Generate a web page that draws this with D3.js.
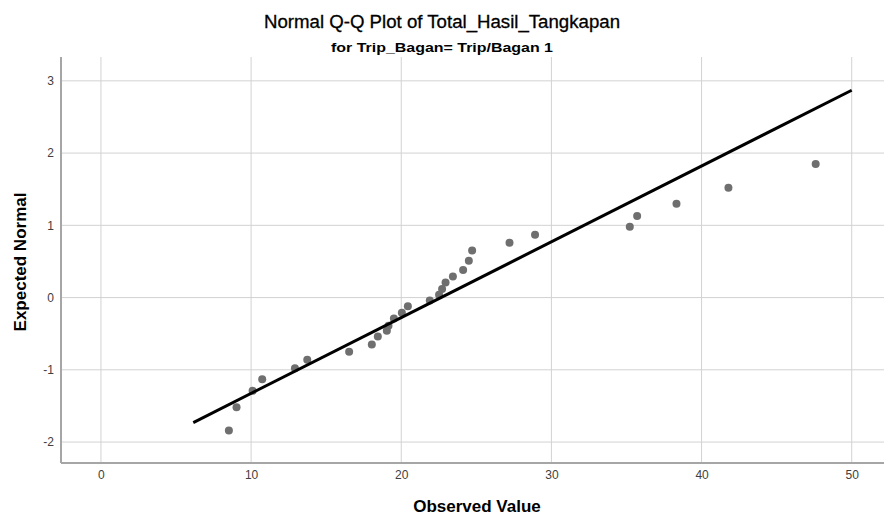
<!DOCTYPE html>
<html>
<head>
<meta charset="utf-8">
<script src="https://cdn.jsdelivr.net/npm/d3@7"></script>
<style>
  body { margin: 0; background: #fff; }
  svg { display: block; font-family: "Liberation Sans", Arial, sans-serif; }
  .grid line { stroke: #d2d2d2; stroke-width: 1; }
  .tick text { fill: #404040; font-size: 12px; }
</style>
</head>
<body>
<svg width="885" height="518"></svg>
<script>
const width = 885;
const height = 518;

const observed = [8.52, 9.03, 10.10, 10.74, 12.92, 13.74, 16.53, 18.04, 18.44, 19.04,
  19.15, 19.51, 20.04, 20.44, 21.90, 22.52, 22.72, 22.95, 23.44, 24.12,
  24.50, 24.72, 27.21, 28.91, 35.22, 35.71, 38.33, 41.79, 47.60];
const expected = [-1.84, -1.52, -1.29, -1.13, -0.98, -0.86, -0.75, -0.65, -0.54, -0.46,
  -0.39, -0.29, -0.21, -0.12, -0.04, 0.04, 0.12, 0.21, 0.29, 0.38,
  0.51, 0.65, 0.76, 0.87, 0.98, 1.13, 1.30, 1.52, 1.85];

// reference line ends
const lineX = [6.15, 50];
const lineY = [-1.73, 2.87];

const xTicks = [0, 10, 20, 30, 40, 50];
const yTicks = [-2, -1, 0, 1, 2, 3];

const plot = {left: 61, right: 884, top: 57, bottom: 463};

const x = d3.scaleLinear().domain([-2.66, 52.15]).range([plot.left, plot.right]);
const y = d3.scaleLinear().domain([-2.29, 3.33]).range([plot.bottom, plot.top]);

const svg = d3.select('svg');

// grid
const grid = svg.append('g').classed('grid', true);
grid.selectAll('.vx').data(xTicks).join('line')
  .attr('x1', d => x(d)).attr('x2', d => x(d))
  .attr('y1', plot.top).attr('y2', plot.bottom);
grid.selectAll('.hy').data(yTicks).join('line')
  .attr('y1', d => y(d)).attr('y2', d => y(d))
  .attr('x1', plot.left).attr('x2', plot.right);

// axes - plain hyphen for negatives like the original
const fmt = d => String(d);
const xAxis = svg.append('g')
  .attr('transform', `translate(0,${plot.bottom})`)
  .call(d3.axisBottom(x).tickValues(xTicks).tickFormat(fmt).tickSize(0).tickPadding(7));
const yAxis = svg.append('g')
  .attr('transform', `translate(${plot.left},0)`)
  .call(d3.axisLeft(y).tickValues(yTicks).tickFormat(fmt).tickSize(0).tickPadding(7));
[xAxis, yAxis].forEach(a => {
  a.select('.domain').attr('stroke', '#a6a6a6').attr('stroke-width', 2);
  a.selectAll('text').attr('font-family', '"Liberation Sans", Arial, sans-serif');
});
xAxis.select('.domain').attr('d', `M${plot.left},0H${plot.right}`);
yAxis.select('.domain').attr('d', `M0,${plot.top}V${plot.bottom}`);

// points
svg.append('g').selectAll('circle')
  .data(observed.map((v, i) => [v, expected[i]]))
  .join('circle')
  .attr('cx', d => x(d[0]))
  .attr('cy', d => y(d[1]))
  .attr('r', 4)
  .attr('fill', '#6f6f6f');

// reference line
svg.append('path')
  .attr('d', d3.line()(lineX.map((v, i) => [x(v), y(lineY[i])])))
  .attr('stroke', '#000')
  .attr('stroke-width', 3)
  .attr('fill', 'none');

// titles
svg.append('text')
  .attr('x', 442).attr('y', 28)
  .attr('text-anchor', 'middle')
  .attr('font-size', 18)
  .attr('stroke', '#000').attr('stroke-width', 0.3)
  .attr('textLength', 356).attr('lengthAdjust', 'spacingAndGlyphs')
  .text('Normal Q-Q Plot of Total_Hasil_Tangkapan');
svg.append('text')
  .attr('x', 442).attr('y', 52)
  .attr('text-anchor', 'middle')
  .attr('font-size', 13).attr('font-weight', 'bold')
  .attr('textLength', 222).attr('lengthAdjust', 'spacingAndGlyphs')
  .text('for Trip_Bagan= Trip/Bagan 1');
svg.append('text')
  .attr('x', 477).attr('y', 512)
  .attr('text-anchor', 'middle')
  .attr('font-size', 17).attr('font-weight', 'bold')
  .text('Observed Value');
svg.append('text')
  .attr('transform', `translate(26,262) rotate(-90)`)
  .attr('text-anchor', 'middle')
  .attr('font-size', 17).attr('font-weight', 'bold')
  .text('Expected Normal');
</script>
</body>
</html>
